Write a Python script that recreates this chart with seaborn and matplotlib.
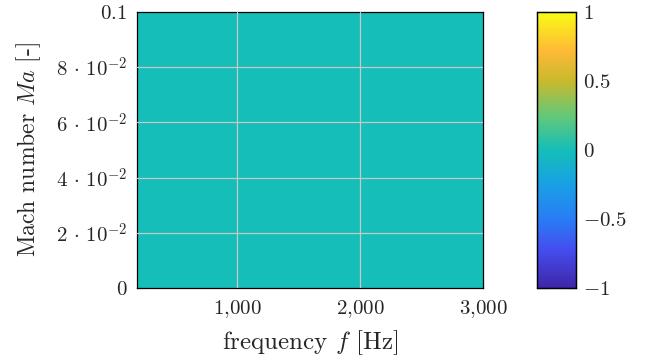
import numpy as np
import pandas as pd
import matplotlib
matplotlib.use("Agg")
import matplotlib.pyplot as plt
import seaborn as sns
from matplotlib.colors import LinearSegmentedColormap
from matplotlib.ticker import NullLocator

# ---- data ----
frequencies = [187.0, 3000.0]      # heatmap cell edges, frequency [Hz]
mach_numbers = [0.0, 0.1]          # heatmap cell edges, Mach number [-]
values = [[0.0]]                   # field value (uniformly zero)

x_ticks = [1000, 2000, 3000]
x_tick_labels = [r"$1{,}000$", r"$2{,}000$", r"$3{,}000$"]
y_ticks = [0.0, 0.02, 0.04, 0.06, 0.08, 0.1]
y_tick_labels = [r"$0$", r"$2\,\cdot\,10^{-2}$", r"$4\,\cdot\,10^{-2}$",
                 r"$6\,\cdot\,10^{-2}$", r"$8\,\cdot\,10^{-2}$", r"$0.1$"]
cb_ticks = [-1, -0.5, 0, 0.5, 1]
cb_tick_labels = [r"$-1$", r"$-0.5$", r"$0$", r"$0.5$", r"$1$"]

# ---- style ----
sns.set_theme(style="white")
plt.rcParams["font.family"] = ["cmr10", "DejaVu Serif"]
plt.rcParams["mathtext.fontset"] = "cm"
plt.rcParams["axes.unicode_minus"] = False

anchors = [
    (0.00, (62, 38, 168)),
    (0.14, (68, 78, 240)),
    (0.25, (40, 125, 245)),
    (0.375, (25, 160, 228)),
    (0.50, (20, 190, 185)),
    (0.625, (100, 200, 120)),
    (0.75, (200, 185, 45)),
    (0.86, (254, 185, 55)),
    (1.00, (249, 251, 20)),
]
parula = LinearSegmentedColormap.from_list(
    "parula_like", [(p, tuple(c / 255 for c in rgb)) for p, rgb in anchors])

W, H = 652, 360
fig = plt.figure(figsize=(W / 100, H / 100), dpi=100)
ax = fig.add_axes([137 / W, 1 - 288 / H, (483 - 137) / W, (288 - 12) / H])
cax = fig.add_axes([537 / W, 1 - 288 / H, (576 - 537) / W, (288 - 12) / H])

df = pd.DataFrame(values)
sns.heatmap(df, ax=ax, cbar_ax=cax, cmap=parula, vmin=-1, vmax=1,
            xticklabels=False, yticklabels=False, cbar=True)

# map real coordinates onto the heatmap's cell-index coordinates
ncols = len(frequencies) - 1
nrows = len(mach_numbers) - 1
xs = np.linspace(0, ncols, ncols + 1)
ys = np.linspace(0, nrows, nrows + 1)
ax.set_xlim(xs[0], xs[-1])
ax.set_ylim(ys[0], ys[-1])

xt = np.interp(x_ticks, frequencies, xs)
yt = np.interp(y_ticks, mach_numbers, ys)
ax.set_xticks(xt)
ax.set_xticklabels(x_tick_labels, fontsize=15)
ax.set_yticks(yt)
ax.set_yticklabels(y_tick_labels, fontsize=15)

grid_col = "#c8c8c8"
for v in xt[:-1]:
    ax.axvline(v, color=grid_col, lw=0.9, zorder=3)
for v in yt[1:-1]:
    ax.axhline(v, color=grid_col, lw=0.9, zorder=3)

ax.tick_params(axis="both", direction="in", length=6.5, width=0.8, color="#808080",
               pad=7, bottom=True, left=True)
for s in ax.spines.values():
    s.set_visible(True)
    s.set_color("black")
    s.set_linewidth(0.9)

ax.set_xlabel(r"frequency $f$ [Hz]", fontsize=18, labelpad=6)
ax.set_ylabel(r"Mach number $Ma$ [-]", fontsize=17, labelpad=9)

# colorbar
cax.set_yticks(cb_ticks)
cax.set_yticklabels(cb_tick_labels, fontsize=15)
cax.yaxis.set_minor_locator(NullLocator())
cax.tick_params(axis="y", direction="in", length=7, width=0.8, color="#808080",
                left=True, right=True, labelleft=False, labelright=True, pad=5)
for s in cax.spines.values():
    s.set_visible(True)
    s.set_color("black")
    s.set_linewidth(0.9)

fig.savefig("out.png", dpi=100)
